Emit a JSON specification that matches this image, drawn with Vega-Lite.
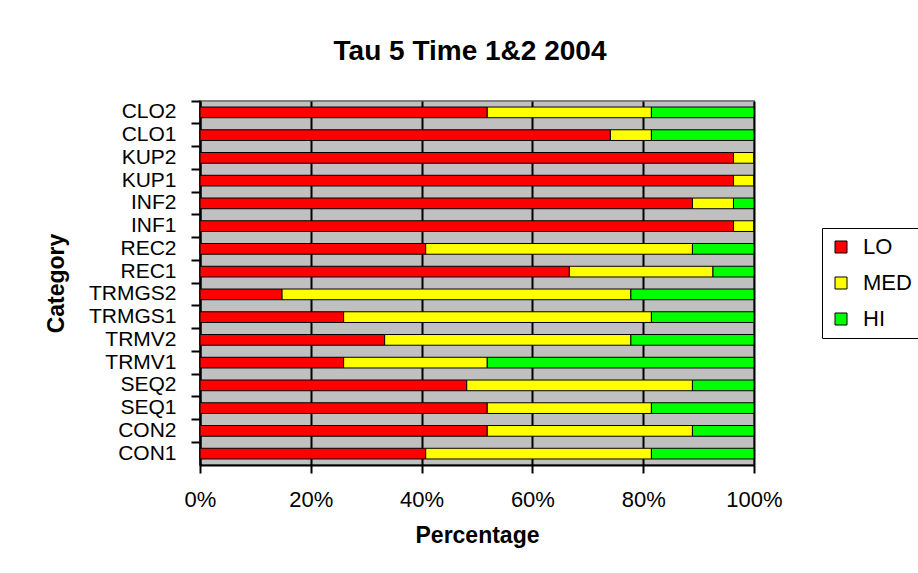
{
  "$schema": "https://vega.github.io/schema/vega-lite/v6.json",
  "autosize": {"type": "none"},
  "padding": {"left": 200, "top": 101, "right": 164, "bottom": 108},
  "width": 554,
  "height": 364,
  "background": "white",
  "title": {
    "text": "Tau 5 Time 1&2 2004",
    "font": "Liberation Sans",
    "fontSize": 28,
    "fontWeight": "bold",
    "color": "black",
    "anchor": "middle",
    "frame": "group",
    "dx": -7,
    "offset": 34
  },
  "data": {
    "values": [
      {"category": "CLO2", "level": "LO", "ord": 1, "count": 14},
      {"category": "CLO2", "level": "MED", "ord": 2, "count": 8},
      {"category": "CLO2", "level": "HI", "ord": 3, "count": 5},
      {"category": "CLO1", "level": "LO", "ord": 1, "count": 20},
      {"category": "CLO1", "level": "MED", "ord": 2, "count": 2},
      {"category": "CLO1", "level": "HI", "ord": 3, "count": 5},
      {"category": "KUP2", "level": "LO", "ord": 1, "count": 26},
      {"category": "KUP2", "level": "MED", "ord": 2, "count": 1},
      {"category": "KUP2", "level": "HI", "ord": 3, "count": 0},
      {"category": "KUP1", "level": "LO", "ord": 1, "count": 26},
      {"category": "KUP1", "level": "MED", "ord": 2, "count": 1},
      {"category": "KUP1", "level": "HI", "ord": 3, "count": 0},
      {"category": "INF2", "level": "LO", "ord": 1, "count": 24},
      {"category": "INF2", "level": "MED", "ord": 2, "count": 2},
      {"category": "INF2", "level": "HI", "ord": 3, "count": 1},
      {"category": "INF1", "level": "LO", "ord": 1, "count": 26},
      {"category": "INF1", "level": "MED", "ord": 2, "count": 1},
      {"category": "INF1", "level": "HI", "ord": 3, "count": 0},
      {"category": "REC2", "level": "LO", "ord": 1, "count": 11},
      {"category": "REC2", "level": "MED", "ord": 2, "count": 13},
      {"category": "REC2", "level": "HI", "ord": 3, "count": 3},
      {"category": "REC1", "level": "LO", "ord": 1, "count": 18},
      {"category": "REC1", "level": "MED", "ord": 2, "count": 7},
      {"category": "REC1", "level": "HI", "ord": 3, "count": 2},
      {"category": "TRMGS2", "level": "LO", "ord": 1, "count": 4},
      {"category": "TRMGS2", "level": "MED", "ord": 2, "count": 17},
      {"category": "TRMGS2", "level": "HI", "ord": 3, "count": 6},
      {"category": "TRMGS1", "level": "LO", "ord": 1, "count": 7},
      {"category": "TRMGS1", "level": "MED", "ord": 2, "count": 15},
      {"category": "TRMGS1", "level": "HI", "ord": 3, "count": 5},
      {"category": "TRMV2", "level": "LO", "ord": 1, "count": 9},
      {"category": "TRMV2", "level": "MED", "ord": 2, "count": 12},
      {"category": "TRMV2", "level": "HI", "ord": 3, "count": 6},
      {"category": "TRMV1", "level": "LO", "ord": 1, "count": 7},
      {"category": "TRMV1", "level": "MED", "ord": 2, "count": 7},
      {"category": "TRMV1", "level": "HI", "ord": 3, "count": 13},
      {"category": "SEQ2", "level": "LO", "ord": 1, "count": 13},
      {"category": "SEQ2", "level": "MED", "ord": 2, "count": 11},
      {"category": "SEQ2", "level": "HI", "ord": 3, "count": 3},
      {"category": "SEQ1", "level": "LO", "ord": 1, "count": 14},
      {"category": "SEQ1", "level": "MED", "ord": 2, "count": 8},
      {"category": "SEQ1", "level": "HI", "ord": 3, "count": 5},
      {"category": "CON2", "level": "LO", "ord": 1, "count": 14},
      {"category": "CON2", "level": "MED", "ord": 2, "count": 10},
      {"category": "CON2", "level": "HI", "ord": 3, "count": 3},
      {"category": "CON1", "level": "LO", "ord": 1, "count": 11},
      {"category": "CON1", "level": "MED", "ord": 2, "count": 11},
      {"category": "CON1", "level": "HI", "ord": 3, "count": 5}
    ]
  },
  "mark": {"type": "bar", "stroke": "black", "strokeWidth": 1, "height": {"band": 0.47}},
  "encoding": {
    "y": {
      "field": "category",
      "type": "nominal",
      "sort": ["CLO2","CLO1","KUP2","KUP1","INF2","INF1","REC2","REC1","TRMGS2","TRMGS1","TRMV2","TRMV1","SEQ2","SEQ1","CON2","CON1"],
      "scale": {"paddingInner": 0, "paddingOuter": 0},
      "axis": {
        "title": "Category",
        "titleFont": "Liberation Sans",
        "titleFontSize": 23,
        "titleFontWeight": "bold",
        "titleColor": "black",
        "titlePadding": 20,
        "labelFont": "Liberation Sans",
        "labelFontSize": 21,
        "labelColor": "black",
        "labelPadding": 15,
        "labelOverlap": false,
        "tickSize": 9,
        "tickColor": "black",
        "tickWidth": 2,
        "bandPosition": 0,
        "domainColor": "black",
        "domainWidth": 2,
        "grid": false
      }
    },
    "x": {
      "field": "count",
      "type": "quantitative",
      "stack": "normalize",
      "scale": {"domain": [0, 1], "nice": false},
      "axis": {
        "title": "Percentage",
        "titleFont": "Liberation Sans",
        "titleFontSize": 23,
        "titleFontWeight": "bold",
        "titleColor": "black",
        "titlePadding": 14,
        "values": [0, 0.2, 0.4, 0.6, 0.8, 1],
        "format": ".0%",
        "labelFont": "Liberation Sans",
        "labelFontSize": 22,
        "labelColor": "black",
        "labelPadding": 16,
        "labelFlush": false,
        "labelOverlap": false,
        "tickSize": 8,
        "tickColor": "black",
        "tickWidth": 2,
        "domainColor": "black",
        "domainWidth": 2,
        "grid": true,
        "gridColor": "black",
        "gridWidth": 2
      }
    },
    "color": {
      "field": "level",
      "type": "nominal",
      "scale": {"domain": ["LO", "MED", "HI"], "range": ["#FF0000", "#FFFF00", "#00FF00"]},
      "legend": {
        "title": null,
        "orient": "none",
        "legendX": 622,
        "legendY": 127,
        "strokeColor": "black",
        "fillColor": "white",
        "padding": 8,
        "symbolType": "square",
        "symbolSize": 144,
        "symbolStrokeColor": "black",
        "symbolStrokeWidth": 1,
        "labelFont": "Liberation Sans",
        "labelFontSize": 22,
        "labelColor": "black",
        "labelOffset": 11,
        "rowPadding": 14
      }
    },
    "order": {"field": "ord", "type": "quantitative"}
  },
  "config": {
    "view": {"fill": "#C0C0C0", "stroke": "#808080", "strokeWidth": 2}
  }
}
